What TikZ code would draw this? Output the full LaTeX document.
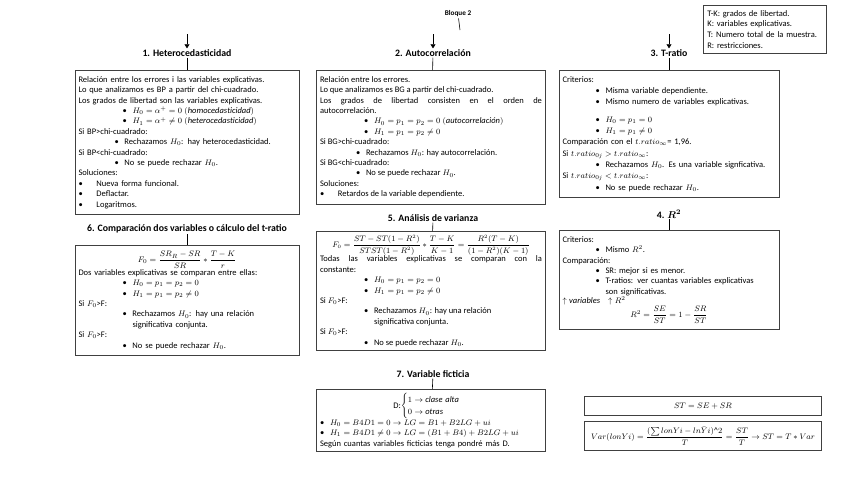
\documentclass[tikz,border=0pt]{standalone}
\usepackage{amsmath,amssymb}
\usepackage{fontspec}
\setmainfont{Carlito}
\usetikzlibrary{arrows.meta,positioning}

\newcommand{\bl}[1]{\hspace*{#1pt}\makebox[10pt][l]{\textbullet}}
\newcommand{\cont}[1]{\hspace*{#1pt}\hspace*{10pt}}
\newcommand{\ctr}[1]{\makebox[\hsize][c]{#1}}

\begin{document}
\begin{tikzpicture}[
  x=1pt, y=-1pt,
  >={Triangle[width=5pt,length=4pt]},
  every node/.style={font=\fontsize{8.5}{10.4}\selectfont},
  head/.style={font=\fontsize{9.8}{11}\selectfont\bfseries,inner sep=1pt},
  card/.style={draw=black!75,line width=0.9pt,anchor=north,align=left,
    inner xsep=3.5pt,inner ysep=6pt,text width=#1},
  link/.style={line width=0.6pt},
  eq/.style={draw=black!75,line width=0.9pt,minimum width=237pt,inner sep=1pt}
]
  \useasboundingbox (0,0) rectangle (848,477);

  % top
  \node[head,font=\fontsize{7.2}{9}\selectfont\bfseries] (blq) at (458,14) {Bloque 2};
  \coordinate (blqend) at (460,30);
  \draw[link] (blq) -- (blqend);

  \node[draw=black!75,line width=0.7pt,align=left,anchor=north west,inner xsep=4pt,
    inner ysep=5pt,text width=115pt,font=\fontsize{8.5}{10.6}\selectfont] (leg) at (703,5)
    {T-K: grados de libertad.\\K: variables explicativas.\\T: Numero total de la muestra.\\R: restricciones.};

  % first row
  \node[head] (het) at (187,53) {1. Heterocedasticidad};
  \node[head] (aut) at (433,53) {2. Autocorrelación};
  \node[head] (trt) at (669,53) {3. T-ratio};

  \coordinate (in1) at (187,34);
  \coordinate (in2) at (433,34);
  \coordinate (in3) at (669,34);
  \draw[->,link] (in1) -- (het);
  \draw[->,link] (in2) -- (aut);
  \draw[->,link] (in3) -- (trt);

  \node[card=217pt] (b1) at (187,70) {%
    Relación entre los errores i las variables explicativas.\\
    Lo que analizamos es BP a partir del chi-cuadrado.\\
    Los grados de libertad son las variables explicativas.\\
    \bl{44}$H_0=\alpha^+=0\;(\mathit{homocedasticidad})$\\
    \bl{44}$H_1=\alpha^+\neq0\;(\mathit{heterocedasticidad})$\\
    Si BP>chi-cuadrado:\\
    \bl{36}Rechazamos $H_0$: hay heterocedasticidad.\\
    Si BP<chi-cuadrado:\\
    \bl{36}No se puede rechazar $H_0$.\\
    Soluciones:\\
    \bl{0}\hspace*{8pt}Nueva forma funcional.\\
    \bl{0}\hspace*{8pt}Deflactar.\\
    \bl{0}\hspace*{8pt}Logaritmos.};

  \node[card=222pt,align=justify] (b2) at (431,70) {%
    Relación entre los errores.\\
    Lo que analizamos es BG a partir del chi-cuadrado.\\
    Los grados de libertad consisten en el orden de\linebreak autocorrelación.\\
    \bl{44}$H_0=p_1=p_2=0\;(\textit{autocorrelación})$\\
    \bl{44}$H_1=p_1=p_2\neq0$\\
    Si BG>chi-cuadrado:\\
    \bl{36}Rechazamos $H_0$: hay autocorrelación.\\
    Si BG<chi-cuadrado:\\
    \bl{36}No se puede rechazar $H_0$.\\
    Soluciones:\\
    \bl{0}\hspace*{8pt}Retardos de la variable dependiente.};

  \node[card=213pt,font=\fontsize{8.5}{11.3}\selectfont] (b3) at (669,70) {%
    Criterios:\\
    \bl{33}Misma variable dependiente.\\
    \bl{33}Mismo numero de variables explicativas.\\[6pt]
    \bl{33}$H_0=p_1=0$\\
    \bl{33}$H_1=p_1\neq0$\\
    Comparación con el $t.ratio_\infty$= 1,96.\\
    Si $t.ratio_{0j}>t.ratio_\infty$:\\
    \bl{33}Rechazamos $H_0$. Es una variable signficativa.\\
    Si $t.ratio_{0j}<t.ratio_\infty$:\\
    \bl{33}No se puede rechazar $H_0$.};

  % second row
  \node[head] (cmp) at (187,229) {6. Comparación dos variables o cálculo del t-ratio};
  \node[head] (anv) at (433,218) {5. Análisis de varianza};
  \node[head] (rsq) at (669,214) {4. $\boldsymbol{R^2}$};

  \node[card=217pt] (b6) at (187,245) {%
    \ctr{$F_0=\dfrac{SR_R-SR}{SR}\ast\dfrac{T-K}{r}$}\\
    Dos variables explicativas se comparan entre ellas:\\
    \bl{44}$H_0=p_1=p_2=0$\\
    \bl{44}$H_1=p_1=p_2\neq0$\\
    Si $F_0$>F:\\
    \bl{44}Rechazamos $H_0$: hay una relación\\
    \cont{44}significativa conjunta.\\
    Si $F_0$>F:\\
    \bl{44}No se puede rechazar $H_0$.};

  \node[card=222pt,align=justify,inner ysep=4pt] (b5) at (431,231) {%
    \ctr{\fontsize{7.8}{10}\selectfont$F_0=\dfrac{ST-ST(1-R^2)}{STST(1-R^2)}\ast\dfrac{T-K}{K-1}=\dfrac{R^2(T-K)}{(1-R^2)(K-1)}$}\\
    Todas las variables explicativas se comparan con la\linebreak constante:\\
    \bl{44}$H_0=p_1=p_2=0$\\
    \bl{44}$H_1=p_1=p_2\neq0$\\
    Si $F_0$>F:\\
    \bl{44}Rechazamos $H_0$: hay una relación\\
    \cont{44}significativa conjunta.\\
    Si $F_0$>F:\\
    \bl{44}No se puede rechazar $H_0$.};

  \node[card=213pt] (b4) at (669,230) {%
    Criterios:\\
    \bl{33}Mismo $R^2$.\\
    Comparación:\\
    \bl{33}SR: mejor si es menor.\\
    \bl{33}\parbox[t]{166pt}{T-ratios: ver cuantas variables explicativas\linebreak son significativas.}\\
    $\uparrow\mathit{variables}\ \ \uparrow R^2$\\
    \ctr{$R^2=\dfrac{SE}{ST}=1-\dfrac{SR}{ST}$}};

  \node[head] (fic) at (433,374) {7. Variable ficticia};

  \node[card=222pt,inner ysep=4pt] (b7) at (431,389) {%
    \ctr{D:$\begin{cases}1\to\mathit{clase\ alta}\\0\to\mathit{otras}\end{cases}$}\\
    \bl{0}$H_0=B4D1=0\to LG=B1+B2LG+ui$\\
    \bl{0}$H_1=B4D1\neq0\to LG=(B1+B4)+B2LG+ui$\\
    Según cuantas variables ficticias tenga pondré más D.};

  % title to box
  \foreach \t/\b in {het/b1,aut/b2,trt/b3,cmp/b6,anv/b5,rsq/b4,fic/b7}
    \draw[link] (\t) -- (\b);

  % formulas
  \node[eq,minimum height=19pt] (st) at (703,406) {$ST=SE+SR$};
  \node[eq,minimum height=29pt] (var) at (703,436)
    {$Var(lonYi)=\dfrac{(\textstyle\sum lonYi-ln\bar{Y}i)\text{\textasciicircum}2}{T}=\dfrac{ST}{T}\to ST=T\ast Var$};
\end{tikzpicture}
\end{document}
